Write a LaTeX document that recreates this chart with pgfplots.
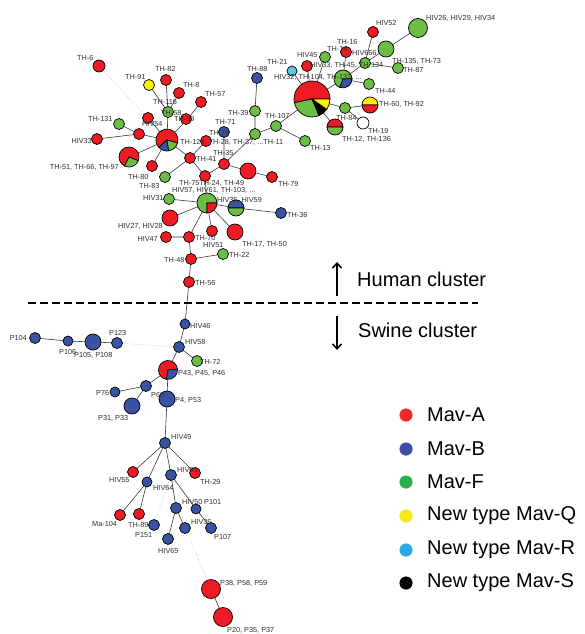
\documentclass[border=0pt]{standalone}
\usepackage{pgfplots}
\pgfplotsset{compat=1.18}
\usepackage{pgfplotstable}
\usetikzlibrary{arrows.meta}
\usepackage{fontspec}
\setmainfont{Liberation Sans}

\definecolor{mavA}{HTML}{ED1C24}
\definecolor{mavB}{HTML}{3A52A3}
\definecolor{mavF}{HTML}{6BBD45}
\definecolor{mavQ}{HTML}{FFF200}
\definecolor{mavR}{HTML}{5BC6E3}
\definecolor{mavS}{HTML}{000000}
\definecolor{legA}{HTML}{EE2A2A}
\definecolor{legB}{HTML}{3B4EA2}
\definecolor{legF}{HTML}{2BAF4A}
\definecolor{legQ}{HTML}{F2E81A}
\definecolor{legR}{HTML}{29ABE2}
\definecolor{edgegray}{HTML}{3A3A3A}
\definecolor{labgray}{HTML}{2E2E2E}

\newcommand\labfont{\fontsize{7.3pt}{8pt}\selectfont}
\newcommand\bigfont{\fontsize{20pt}{23pt}\selectfont}

% pie slices for mixed-type haplotypes: name, start angle, end angle
\newcommand\wedgemark[3]{%
  \pgfdeclareplotmark{#1}{%
    \pgfpathmoveto{\pgfpointorigin}%
    \pgfpathlineto{\pgfpointpolar{#2}{\pgfplotmarksize}}%
    \pgfpatharc{#2}{#3}{\pgfplotmarksize}%
    \pgfpathclose
    \pgfusepathqfillstroke}}
\wedgemark{wCa}{-15}{222}\wedgemark{wCb}{222}{279}\wedgemark{wCf}{279}{345}
\wedgemark{wDa}{-22}{244}\wedgemark{wDf}{244}{338}
\wedgemark{wTa}{0}{192}\wedgemark{wTf}{192}{293}\wedgemark{wTs}{293}{325}\wedgemark{wTq}{325}{360}
\wedgemark{wGf}{2}{250}\wedgemark{wGb}{250}{362}
\wedgemark{wUp}{0}{180}\wedgemark{wLo}{180}{360}
\wedgemark{wHf}{0}{270}\wedgemark{wHa}{270}{360}
\wedgemark{wPa}{5}{260}\wedgemark{wPb}{260}{365}

\pgfplotsset{
  hap/.style n args={2}{only marks, mark=*, mark size=#2pt,
    mark options={draw=black, fill=#1, line width=0.7pt}},
  slice/.style n args={3}{only marks, mark=#1, mark size=#3pt,
    mark options={draw=black, fill=#2, line width=0.7pt}},
  labs/.style={draw=none, mark=none, nodes near coords, point meta=explicit symbolic,
    every node near coord/.append style={anchor=#1, inner sep=0pt,
      font=\labfont, text=labgray}},
}

% haplotype labels, left-aligned
\pgfplotstableread{
x y lab
77 58 {TH-6}
125 77 {TH-91}
155 69 {TH-82}
183 85 {TH-8}
205 94 {TH-57}
153 102 {TH-116}
161 113 {TH-58}
174 119 {TH-59}
88 119 {TH-131}
142 124 {HIV54}
180 142 {TH-124, TH-28, TH-37, ...TH-11}
128 177 {TH-80}
139 186 {TH-83}
196 159 {TH-41}
215 122 {TH-71}
209 133 {TH-76}
213 153 {TH-35}
228 113 {TH-39}
265 116 {TH-107}
278 184 {TH-79}
179 183 {TH-75TH-24, TH-49}
172 190 {HIV57, HIV61, TH-103, ...}
247 69 {TH-88}
267 62 {TH-21}
297 55 {HIV45}
327 49 {TH-14}
337 42 {TH-16}
376 23 {HIV52}
352 53 {HIV666}
310 65 {HIV33, TH-45, TH-134}
274 77 {HIV32, TH-104, TH-133, ...}
392 61 {TH-135, TH-73}
403 70 {TH-87}
426 18 {HIV26, HIV29, HIV34}
375 91 {TH-44}
379 104 {TH-60, TH-92}
336 118 {TH-84}
368 131 {TH-19}
342 139 {TH-12, TH-136}
310 148 {TH-13}
143 198 {HIV31}
217 200 {HIV35, HIV59}
287 215 {TH-36}
195 238 {TH-70}
203 245 {HIV51}
242 244 {TH-17, TH-50}
229 255 {TH-22}
164 260 {TH-48}
195 283 {TH-56}
190 326 {HIV46}
185 342 {HIV58}
200 362 {TH-72}
178 373 {P43, P45, P46}
109 333 {P123}
59 352 {P106}
74 355 {P105, P108}
96 393 {P76}
151 395 {P60}
175 400 {P4, P53}
98 418 {P31, P33}
171 437 {HIV49}
109 480 {HIV55}
153 488 {HIV64}
177 470 {HIV63}
200 482 {TH-29}
92 524 {Ma-104}
128 525 {TH-89}
135 535 {P151}
182 502 {HIV50}
204 502 {P101}
191 522 {HIV36}
214 537 {P107}
158 551 {HIV65}
220 583 {P38, P58, P59}
227 630 {P20, P35, P37}
}\labelsW

% haplotype labels, right-aligned
\pgfplotstableread{
x y lab
92 141 {HIV33}
119 167 {TH-51, TH-66, TH-97}
163 226 {HIV27, HIV28}
158 239 {HIV47}
27 338 {P104}
}\labelsE

\begin{document}
\begin{tikzpicture}
\begin{axis}[
  width=584pt, height=634pt, scale only axis,
  xmin=0, xmax=584, ymin=0, ymax=634, y dir=reverse,
  hide axis, clip=false,
]
% frame of the figure
\addplot[draw=none, mark=none] coordinates {(0,0) (584,634)};

% minimum spanning tree links
\addplot[edgegray, line width=0.6pt, mark=none, unbounded coords=jump] coordinates {
(166,80) (168,112) (167,140) (nan,nan)
(149,85) (168,112) (180,92) (nan,nan)
(201,102) (187,120) (167,140) (nan,nan)
(148,118) (167,140) (nan,nan)
(97,139) (139,134) (167,140) (nan,nan)
(119,124) (139,134) (nan,nan)
(129,157) (167,140) (152,166) (nan,nan)
(167,140) (190,158) (206,141) (nan,nan)
(165,177) (190,158) (205,176) (224,164) (224,132) (nan,nan)
(224,164) (248,171) (272,177) (nan,nan)
(224,164) (255,134) (255,111) (257,78) (nan,nan)
(255,134) (276,126) (305,141) (nan,nan)
(276,126) (312,99) (292,71) (nan,nan)
(312,99) (307,66) (nan,nan)
(312,99) (325,57) (nan,nan)
(312,99) (343,79) (346,52) (nan,nan)
(312,99) (345,108) (370,105) (nan,nan)
(345,108) (363,123) (nan,nan)
(312,99) (335,127) (nan,nan)
(343,79) (365,63) (373,32) (nan,nan)
(343,79) (369,84) (nan,nan)
(365,63) (386,49) (418,28) (nan,nan)
(365,63) (398,68) (nan,nan)
(205,176) (207,203) (169,199) (nan,nan)
(207,203) (170,218) (nan,nan)
(207,203) (212,231) (nan,nan)
(207,203) (235,232) (nan,nan)
(207,203) (236,208) (281,213) (nan,nan)
(207,203) (189,237) (166,237) (nan,nan)
(189,237) (191,259) (223,254) (nan,nan)
(191,259) (189,282) (185,324) (179,347) (197,361) (nan,nan)
(179,347) (168,370) (146,386) (115,392) (nan,nan)
(146,386) (132,406) (nan,nan)
(168,370) (167,399) (165,443) (133,472) (nan,nan)
(165,443) (147,482) (120,515) (nan,nan)
(147,482) (139,514) (nan,nan)
(165,443) (171,475) (176,508) (168,539) (nan,nan)
(176,508) (185,528) (nan,nan)
(171,475) (196,509) (211,528) (nan,nan)
(165,443) (195,473) (nan,nan)
(35,338) (68,341) (93,342) (117,343) (nan,nan)
(211,589) (223,617)
};

% long-distance links
\addplot[black!30, dotted, line width=0.6pt, mark=none, unbounded coords=jump] coordinates {
(99,66) (148,118) (nan,nan)
(117,343) (179,347) (nan,nan)
(171,475) (154,525) (nan,nan)
(185,528) (211,589)
};

% single-type haplotypes
\addplot[hap={mavA}{5.5}] coordinates {
(166,80) (179,93) (201,102) (148,118) (186,119) (139,134) (97,139) (206,141)
(152,166) (190,158) (224,164) (205,176) (272,177) (212,231) (166,237) (189,237)
(191,259) (189,282) (307,66) (346,52) (373,32) (133,472) (195,473) (120,515) (139,514)};
\addplot[hap={mavA}{6}] coordinates {(99,66)};
\addplot[hap={mavA}{8}] coordinates {(248,171) (170,218) (235,232)};
\addplot[hap={mavA}{9.5}] coordinates {(211,589) (223,617)};

\addplot[hap={mavB}{5.5}] coordinates {
(224,132) (257,78) (281,213) (179,347) (146,386) (117,343) (35,338) (165,443)
(171,475) (154,525) (176,508) (185,528) (211,528) (168,539)};
\addplot[hap={mavB}{5}] coordinates {(185,324) (115,392) (68,341) (147,482) (196,509)};
\addplot[hap={mavB}{8}] coordinates {(167,399) (132,406) (93,342)};

\addplot[hap={mavF}{5.5}] coordinates {
(168,112) (119,124) (165,177) (255,111) (255,134) (276,126) (305,141) (325,57)
(365,63) (398,68) (369,84) (345,108) (169,199) (223,254) (197,361)};
\addplot[hap={mavF}{8}] coordinates {(386,49)};
\addplot[hap={mavF}{9.5}] coordinates {(418,28)};

\addplot[hap={mavQ}{5.5}] coordinates {(149,85)};
\addplot[hap={mavR}{5}] coordinates {(292,71)};
\addplot[hap={white}{6}] coordinates {(363,123)};

% mixed haplotypes
\addplot[slice={wCa}{mavA}{11}] coordinates {(167,140)};
\addplot[slice={wCb}{mavB}{11}] coordinates {(167,140)};
\addplot[slice={wCf}{mavF}{11}] coordinates {(167,140)};
\addplot[slice={wDa}{mavA}{10}] coordinates {(129,157)};
\addplot[slice={wDf}{mavF}{10}] coordinates {(129,157)};
\addplot[slice={wTa}{mavA}{18}] coordinates {(312,99)};
\addplot[slice={wTf}{mavF}{18}] coordinates {(312,99)};
\addplot[slice={wTs}{mavS}{18}] coordinates {(312,99)};
\addplot[slice={wTq}{mavQ}{18}] coordinates {(312,99)};
\addplot[slice={wGf}{mavF}{9}] coordinates {(343,79)};
\addplot[slice={wGb}{mavB}{9}] coordinates {(343,79)};
\addplot[slice={wUp}{mavQ}{8}] coordinates {(370,105)};
\addplot[slice={wLo}{mavA}{8}] coordinates {(370,105)};
\addplot[slice={wUp}{mavA}{8}] coordinates {(335,127)};
\addplot[slice={wLo}{mavF}{8}] coordinates {(335,127)};
\addplot[slice={wHf}{mavF}{10}] coordinates {(207,203)};
\addplot[slice={wHa}{mavA}{10}] coordinates {(207,203)};
\addplot[slice={wUp}{mavB}{8}] coordinates {(236,208)};
\addplot[slice={wLo}{mavF}{8}] coordinates {(236,208)};
\addplot[slice={wPa}{mavA}{9.5}] coordinates {(168,370)};
\addplot[slice={wPb}{mavB}{9.5}] coordinates {(168,370)};

% labels, set over the haplotype circles
\addplot[labs=west] table[x=x, y=y, meta=lab] {\labelsW};
\addplot[labs=east] table[x=x, y=y, meta=lab] {\labelsE};

% cluster separation
\addplot[black, line width=2.4pt, dash pattern=on 8pt off 4pt, mark=none]
  coordinates {(28,303) (478,303)};
\addplot[black, line width=1.5pt, mark=none, -{Straight Barb[length=5pt, width=9pt]}]
  coordinates {(337,296) (337,262)};
\addplot[black, line width=1.5pt, mark=none, -{Straight Barb[length=5pt, width=9pt]}]
  coordinates {(337,316) (337,350)};
\node[anchor=west, inner sep=0pt, font=\bigfont] at (axis cs:357,279) {Human cluster};
\node[anchor=west, inner sep=0pt, font=\bigfont] at (axis cs:358,330) {Swine cluster};

% legend
\addplot[only marks, mark=*, mark size=6.3pt, legA] coordinates {(406,415)};
\addplot[only marks, mark=*, mark size=6.3pt, legB] coordinates {(406,449)};
\addplot[only marks, mark=*, mark size=6.3pt, legF] coordinates {(406,482)};
\addplot[only marks, mark=*, mark size=6.3pt, legQ] coordinates {(406,516)};
\addplot[only marks, mark=*, mark size=6.3pt, legR] coordinates {(406,550)};
\addplot[only marks, mark=*, mark size=6.3pt, mavS] coordinates {(406,583)};
\node[anchor=west, inner sep=0pt, font=\bigfont] at (axis cs:427,415) {Mav-A};
\node[anchor=west, inner sep=0pt, font=\bigfont] at (axis cs:427,449) {Mav-B};
\node[anchor=west, inner sep=0pt, font=\bigfont] at (axis cs:427,482) {Mav-F};
\node[anchor=west, inner sep=0pt, font=\bigfont] at (axis cs:427,516) {New type Mav-Q};
\node[anchor=west, inner sep=0pt, font=\bigfont] at (axis cs:427,550) {New type Mav-R};
\node[anchor=west, inner sep=0pt, font=\bigfont] at (axis cs:427,583) {New type Mav-S};
\end{axis}
\end{tikzpicture}
\end{document}
